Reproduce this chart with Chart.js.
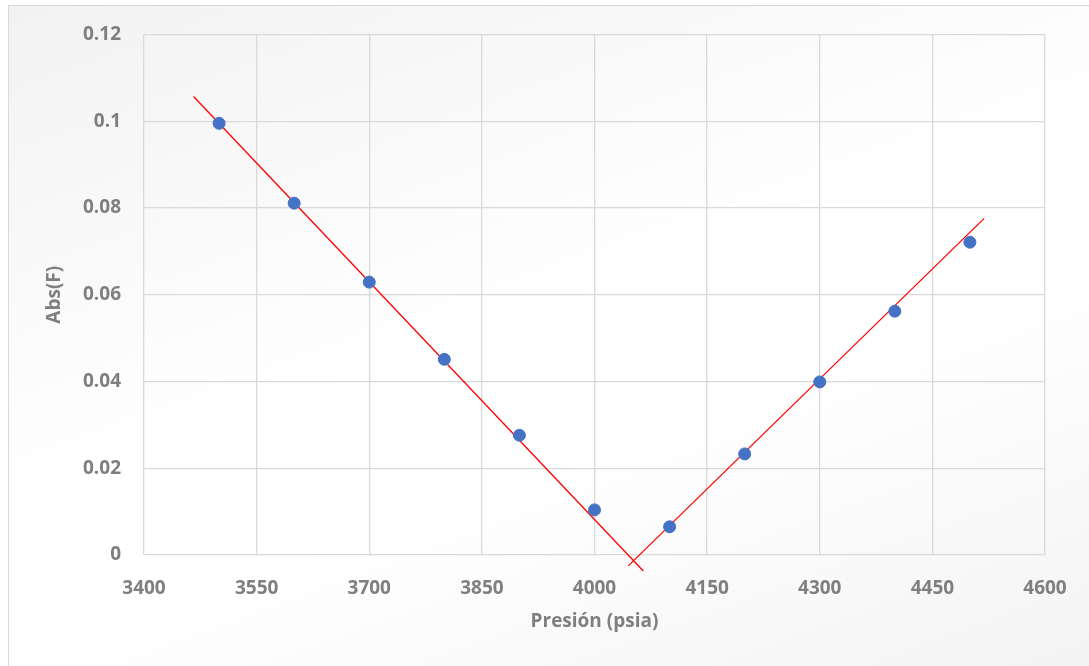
<!DOCTYPE html>
<html>
<head>
<meta charset="utf-8">
<script src="https://cdn.jsdelivr.net/npm/chart.js@4/dist/chart.umd.min.js"></script>
<style>
  html, body { margin: 0; padding: 0; width: 1089px; height: 666px; overflow: hidden; background: #fff; }
  #marco {
    position: absolute; left: 8px; top: 5px; width: 1100px; height: 700px;
    border: 1px solid #d9d9d9;
    background: linear-gradient(160deg, #f2f2f2 0%, #ffffff 45%, #ffffff 60%, #f2f2f2 100%);
  }
  #lienzo { position: absolute; left: 0; top: 0; width: 1089px; height: 666px; }
</style>
</head>
<body>
<div id="marco"></div>
<div id="lienzo"><canvas id="grafico" width="1089" height="666"></canvas></div>
<script>
// Datos medidos
const presion = [3500, 3600, 3700, 3800, 3900, 4000, 4100, 4200, 4300, 4400, 4500];
const absF = [0.0995, 0.0811, 0.0629, 0.0451, 0.0276, 0.0104, 0.0065, 0.0233, 0.0399, 0.0562, 0.0721];

// Rectas de ajuste (extremos)
const recta1X = [3466, 4065];
const recta1Y = [0.1057, -0.0037];
const recta2X = [4045, 4519];
const recta2Y = [-0.0025, 0.0776];

const grisTexto = "#7f7f7f";
const fuente = "'Open Sans', sans-serif";

const puntos = presion.map((x, i) => ({ x, y: absF[i] }));
const linea1 = recta1X.map((x, i) => ({ x, y: recta1Y[i] }));
const linea2 = recta2X.map((x, i) => ({ x, y: recta2Y[i] }));

new Chart(document.getElementById("grafico"), {
  type: "scatter",
  data: {
    datasets: [
      {
        label: "Abs(F)",
        data: puntos,
        backgroundColor: "#4472c4",
        borderColor: "#4472c4",
        pointRadius: 6,
        order: 1
      },
      {
        label: "recta 1",
        data: linea1,
        type: "line",
        showLine: true,
        borderColor: "#ff0000",
        borderWidth: 1.3,
        pointRadius: 0,
        clip: false,
        order: 2
      },
      {
        label: "recta 2",
        data: linea2,
        type: "line",
        showLine: true,
        borderColor: "#ff0000",
        borderWidth: 1.3,
        pointRadius: 0,
        clip: false,
        order: 2
      }
    ]
  },
  options: {
    responsive: false,
    animation: false,
    layout: { padding: { left: 39, right: 44, top: 34, bottom: 29 } },
    plugins: {
      legend: { display: false },
      tooltip: { enabled: false }
    },
    scales: {
      x: {
        type: "linear",
        min: 3400,
        max: 4600,
        ticks: {
          stepSize: 150,
          color: grisTexto,
          font: { family: fuente, size: 19, weight: "bold" },
          padding: 22,
          maxRotation: 0,
          callback: v => String(v)
        },
        grid: { color: "#d9d9d9", lineWidth: 1.3, drawTicks: false },
        border: { display: false },
        title: {
          display: true,
          text: "Presión (psia)",
          color: grisTexto,
          font: { family: fuente, size: 19, weight: "bold" },
          padding: { top: 8 }
        },
        afterFit: s => { s.height = 82; }
      },
      y: {
        min: 0,
        max: 0.12,
        ticks: {
          stepSize: 0.02,
          color: grisTexto,
          font: { family: fuente, size: 19, weight: "bold" },
          padding: 23,
          callback: v => Number(v.toFixed(2)).toString()
        },
        grid: { color: "#d9d9d9", lineWidth: 1.3, drawTicks: false },
        border: { display: false },
        title: {
          display: true,
          text: "Abs(F)",
          color: grisTexto,
          font: { family: fuente, size: 19, weight: "bold" }
        },
        afterFit: s => { s.width = 105; }
      }
    }
  }
});
</script>
</body>
</html>
